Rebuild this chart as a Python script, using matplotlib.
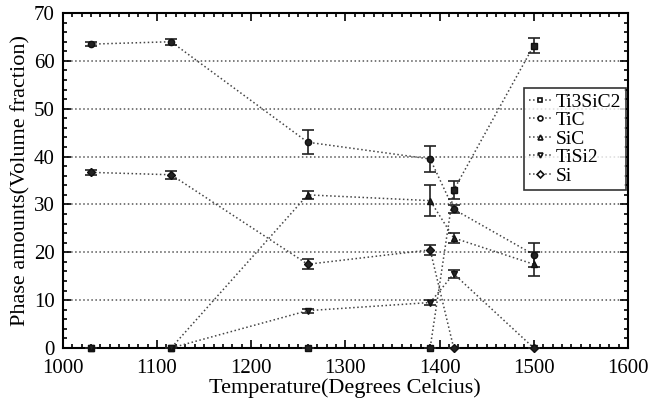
import matplotlib
matplotlib.use("Agg")
import numpy as np
from matplotlib import pyplot as plt
from matplotlib.ticker import MultipleLocator

temps = [1030, 1115, 1260, 1390, 1415, 1500]

ti3sic2 = [0, 0, 0, 0, 33.0, 63.2]
ti3sic2_err = [0, 0, 0, 0, 1.8, 1.5]
tic = [63.5, 64.0, 43.0, 39.5, 29.0, 19.5]
tic_err = [0.4, 0.6, 2.5, 2.8, 0.8, 2.5]
sic = [0, 0, 32.0, 30.8, 23.0, 17.5]
sic_err = [0, 0, 0.8, 3.2, 1.0, 2.5]
tisi2 = [0, 0, 7.8, 9.5, 15.5, 0]
tisi2_err = [0, 0, 0.4, 0.5, 0.8, 0]
si = [36.7, 36.2, 17.5, 20.5, 0, 0]
si_err = [0.5, 0.8, 1.0, 1.0, 0, 0]

series = [
    ("Ti3SiC2", ti3sic2, ti3sic2_err, "s"),
    ("TiC", tic, tic_err, "o"),
    ("SiC", sic, sic_err, "^"),
    ("TiSi2", tisi2, tisi2_err, "v"),
    ("Si", si, si_err, "D"),
]

plt.rcParams["font.family"] = "Liberation Serif"

fig = plt.figure(figsize=(6.61, 4.07), dpi=100)
ax = fig.add_axes([0.095, 0.145, 0.855, 0.823])

for label, vals, errs, mk in series:
    ms = 4.5 if mk != "D" else 4
    eb = ax.errorbar(temps, vals, yerr=errs, fmt=mk, color="#222222", ms=ms,
                     mfc="#222222", mec="#111111", capsize=4, elinewidth=1.2,
                     capthick=1.2, zorder=3)
    eb[0].set_clip_on(False)
    ax.plot(temps, vals, linestyle=":", color="#444444", lw=1.1, zorder=2)
    # legend proxy
    ax.plot([], [], linestyle=":", color="#444444", lw=1.1, marker=mk,
            ms=3.5, mfc="white", mec="#111111", mew=1.2, label=label)

ax.set_xlim(1000, 1600)
ax.set_ylim(0, 70)
ax.xaxis.set_major_locator(MultipleLocator(100))
ax.xaxis.set_minor_locator(MultipleLocator(10))
ax.yaxis.set_major_locator(MultipleLocator(10))
ax.yaxis.set_minor_locator(MultipleLocator(2))
ax.tick_params(which="both", direction="in", top=True, right=True,
               labelsize=15, width=1.2)
ax.tick_params(which="major", length=6)
ax.tick_params(which="minor", length=3)
ax.tick_params(axis="x", which="major", pad=8)
ax.tick_params(axis="y", which="major", pad=6)
for sp in ax.spines.values():
    sp.set_linewidth(1.5)

ax.grid(axis="y", which="major", linestyle=":", color="#555555", lw=1.1)

ax.set_xlabel("Temperature(Degrees Celcius)", fontsize=16, labelpad=0)
ax.set_ylabel("Phase amounts(Volume fraction)", fontsize=16, labelpad=2)

leg = ax.legend(loc="upper right", bbox_to_anchor=(0.997, 0.776), fontsize=14,
                frameon=True, fancybox=False, handlelength=1.2,
                handletextpad=0.2, borderpad=0.25, labelspacing=0.05,
                borderaxespad=0)
leg.get_frame().set_edgecolor("black")
leg.get_frame().set_linewidth(1.2)

fig.savefig("out.png", dpi=100)
